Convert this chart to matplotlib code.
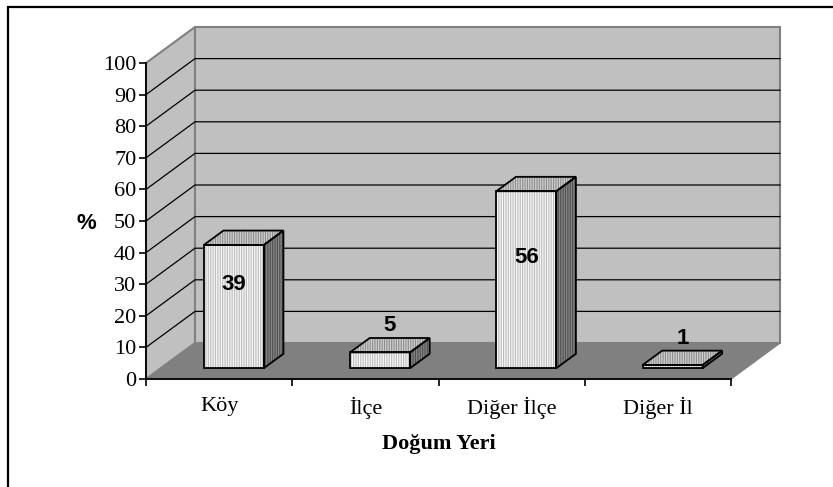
import matplotlib
matplotlib.use('Agg')
import matplotlib.pyplot as plt
from matplotlib.patches import Polygon, Rectangle
from matplotlib.transforms import IdentityTransform
import numpy as np

categories = ['Köy', 'İlçe', 'Diğer İlçe', 'Diğer İl']
values = [39, 5, 56, 1]
y_ticks = list(range(0, 101, 10))
x_title = 'Doğum Yeri'
y_title = '%'

W, H, DPI = 833, 487, 100
plt.rcParams['hatch.linewidth'] = 0.8
fig = plt.figure(figsize=(W / DPI, H / DPI), dpi=DPI)
fig.patch.set_facecolor('white')

ax = fig.add_axes([146 / W, 1 - 379 / H, 585 / W, 316 / H])
ax.set_xlim(0, len(categories))
ax.set_ylim(0, 100)
ax.patch.set_visible(False)

DEPTH = np.array([49.0, 36.0])  # depth offset in display pixels
ident = IdentityTransform()


def proj(x, y, z=0.0):
    return ax.transData.transform((x, y)) + z * DEPTH


def poly(pts, zorder, **kw):
    p = Polygon(np.array(pts), closed=True, transform=ident, clip_on=False,
                zorder=zorder, **kw)
    ax.add_artist(p)
    return p


n = len(categories)
ymax = y_ticks[-1]
# floor
poly([proj(0, 0, 0), proj(n, 0, 0), proj(n, 0, 1), proj(0, 0, 1)], 0.5,
     facecolor='#808080', edgecolor='#808080', lw=1)
# left wall
poly([proj(0, 0, 0), proj(0, ymax, 0), proj(0, ymax, 1), proj(0, 0, 1)], 0.6,
     facecolor='#C0C0C0', edgecolor='#808080', lw=1.5)
# back wall
poly([proj(0, 0, 1), proj(n, 0, 1), proj(n, ymax, 1), proj(0, ymax, 1)], 0.6,
     facecolor='#C0C0C0', edgecolor='#808080', lw=1.5)
# gridlines
for t in y_ticks[1:-1]:
    pts = np.array([proj(0, t, 0), proj(0, t, 1), proj(n, t, 1)])
    ax.plot(pts[:, 0], pts[:, 1], color='black', lw=0.9, transform=ident,
            clip_on=False, zorder=0.8)
# back edge of floor line
pts = np.array([proj(0, 0, 1), proj(n, 0, 1)])
ax.plot(pts[:, 0], pts[:, 1], color='#808080', lw=1.2, transform=ident,
        clip_on=False, zorder=0.9)

HATCH = '|||||||'
half_w = 0.205
z0, z1 = 0.3, 0.7
for i, v in enumerate(values):
    xc = i + 0.5
    x0, x1 = xc - half_w, xc + half_w
    front = [proj(x0, 0, z0), proj(x1, 0, z0), proj(x1, v, z0), proj(x0, v, z0)]
    top = [proj(x0, v, z0), proj(x1, v, z0), proj(x1, v, z1), proj(x0, v, z1)]
    side = [proj(x1, 0, z0), proj(x1, 0, z1), proj(x1, v, z1), proj(x1, v, z0)]
    zb = 3 + i * 0.1
    for face, fc, hc in [(side, '#858585', '#505050'),
                         (top, '#CFCFCF', '#8C8C8C'),
                         (front, '#F6F6F6', '#BDBDBD')]:
        poly(face, zb, facecolor=fc, edgecolor=hc, lw=0, hatch=HATCH)
        poly(face, zb + 0.01, fill=False, edgecolor='black', lw=1.3,
             joinstyle='miter')
    if v > 20:
        ax.annotate(str(v), xy=(xc, v / 2 + 7), xycoords='data',
                    xytext=(z0 * DEPTH[0], z0 * DEPTH[1]),
                    textcoords='offset pixels', ha='center', va='center',
                    fontsize=16, fontweight='bold', family='Liberation Sans',
                    zorder=5, annotation_clip=False)
    else:
        ax.annotate(str(v), xy=(xc, v), xycoords='data',
                    xytext=(0.5 * DEPTH[0], z1 * DEPTH[1] + 2),
                    textcoords='offset pixels', ha='center', va='bottom',
                    fontsize=16, fontweight='bold', family='Liberation Sans',
                    zorder=5, annotation_clip=False)

# axes
for s in ['top', 'right']:
    ax.spines[s].set_visible(False)
for s in ['left', 'bottom']:
    ax.spines[s].set_linewidth(1.3)
    ax.spines[s].set_zorder(2)
ax.set_yticks(y_ticks)
ax.set_yticklabels([str(t) for t in y_ticks], family='Liberation Serif',
                   fontsize=16)
ax.tick_params(axis='y', which='major', length=5, width=1.2, pad=2,
               direction='out')
ax.set_xticks(range(n + 1))
ax.set_xticklabels([''] * (n + 1))
ax.tick_params(axis='x', which='major', length=5, width=1.2, direction='out')
ax.set_xticks([i + 0.5 for i in range(n)], minor=True)
ax.set_xticklabels(categories, minor=True, family='Liberation Serif',
                   fontsize=16)
ax.tick_params(axis='x', which='minor', length=0, pad=13)

ax.set_xlabel(x_title, family='Liberation Serif', fontsize=16,
              fontweight='bold', labelpad=11)
fig.text(86 / W, 1 - 224 / H, y_title, family='Liberation Sans', fontsize=16,
         fontweight='bold', ha='center', va='center')

# outer border
fig.add_artist(Rectangle((8 / W, -0.1), 1.2, 1 - 7 / H + 0.1,
                         transform=fig.transFigure, fill=False,
                         edgecolor='black', lw=1.6, zorder=10))

fig.savefig('out.png', dpi=DPI, facecolor='white')
